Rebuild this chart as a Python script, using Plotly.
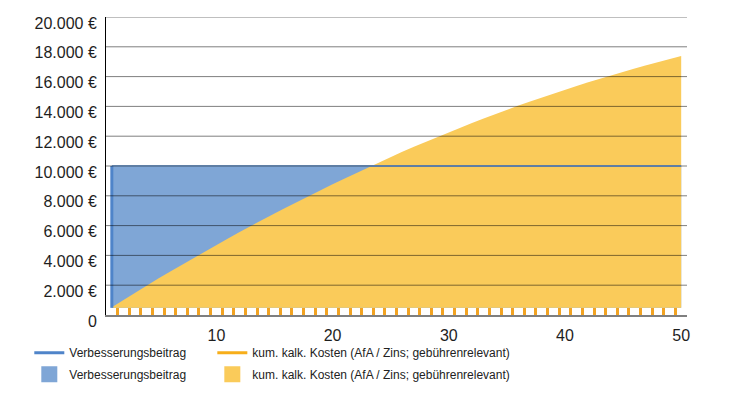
import plotly.graph_objects as go

# ---------------- data ----------------
YEARS = list(range(1, 51))
BEITRAG = [
    10000, 10000, 10000, 10000, 10000, 10000, 10000, 10000, 10000, 10000,
    10000, 10000, 10000, 10000, 10000, 10000, 10000, 10000, 10000, 10000,
    10000, 10000, 10000, 10000, 10000, 10000, 10000, 10000, 10000, 10000,
    10000, 10000, 10000, 10000, 10000, 10000, 10000, 10000, 10000, 10000,
    10000, 10000, 10000, 10000, 10000, 10000, 10000, 10000, 10000, 10000,
]
KOSTEN = [
    520, 1010, 1500, 1990, 2450, 2900, 3360, 3810, 4260, 4700,
    5140, 5570, 6000, 6410, 6820, 7220, 7620, 8010, 8390, 8770,
    9150, 9520, 9890, 10250, 10600, 10950, 11290, 11620, 11950, 12270,
    12580, 12890, 13190, 13490, 13780, 14060, 14330, 14600, 14860, 15120,
    15370, 15620, 15860, 16090, 16320, 16540, 16760, 16970, 17180, 17390,
]
Y_TICKS = [0, 2000, 4000, 6000, 8000, 10000, 12000, 14000, 16000, 18000, 20000]
Y_TICK_TEXT = ["0", "2.000 €", "4.000 €", "6.000 €", "8.000 €", "10.000 €",
               "12.000 €", "14.000 €", "16.000 €", "18.000 €", "20.000 €"]
X_TICKS = [10, 20, 30, 40, 50]
NAME_B = "Verbesserungsbeitrag"
NAME_K = "kum. kalk. Kosten (AfA / Zins; gebührenrelevant)"

# ---------------- style ----------------
BLUE_FILL = "#7FA6D6"
BLUE_LINE = "#7EA8DB"
BLUE_EDGE = "#4F84C9"
YELLOW_FILL = "#FACB5A"
ORANGE = "#F2A322"
FILL_BASE = 480  # areas stop just above the tick band
FONT = "Liberation Sans, Arial, sans-serif"

base = [FILL_BASE for _ in YEARS]

fig = go.Figure()

# blue area
fig.add_trace(go.Scatter(x=YEARS, y=base, mode="lines", line=dict(width=0),
                         showlegend=False, hoverinfo="skip"))
fig.add_trace(go.Scatter(x=YEARS, y=BEITRAG, mode="lines", line=dict(width=0),
                         fill="tonexty", fillcolor=BLUE_FILL,
                         showlegend=False, hoverinfo="skip"))
# yellow area
fig.add_trace(go.Scatter(x=YEARS, y=base, mode="lines", line=dict(width=0),
                         showlegend=False, hoverinfo="skip"))
fig.add_trace(go.Scatter(x=YEARS, y=KOSTEN, mode="lines", line=dict(width=0),
                         fill="tonexty", fillcolor=YELLOW_FILL,
                         showlegend=False, hoverinfo="skip"))
# blue line
fig.add_trace(go.Scatter(x=YEARS, y=BEITRAG, mode="lines",
                         line=dict(color=BLUE_LINE, width=2),
                         showlegend=False, hoverinfo="skip"))
fig.add_trace(go.Scatter(x=[YEARS[0], YEARS[0]], y=[FILL_BASE, BEITRAG[0]], mode="lines",
                         line=dict(color=BLUE_EDGE, width=3),
                         showlegend=False, hoverinfo="skip"))

# legend entries
fig.add_trace(go.Scatter(x=[None], y=[None], mode="lines", name=NAME_B,
                         line=dict(color=BLUE_EDGE, width=3),
                         legend="legend", legendgroup="a"))
fig.add_trace(go.Scatter(x=[None], y=[None], mode="markers", name=NAME_B,
                         marker=dict(symbol="square", size=16, color=BLUE_FILL),
                         legend="legend", legendgroup="b"))
fig.add_trace(go.Scatter(x=[None], y=[None], mode="lines", name=NAME_K,
                         line=dict(color="#F7AE1A", width=3),
                         legend="legend2", legendgroup="c"))
fig.add_trace(go.Scatter(x=[None], y=[None], mode="markers", name=NAME_K,
                         marker=dict(symbol="square", size=16, color=YELLOW_FILL),
                         legend="legend2", legendgroup="d"))

# orange tick band (overlay axis)
fig.add_trace(go.Scatter(x=[None], y=[None], xaxis="x2", showlegend=False))

# gridlines above the areas
for v in Y_TICKS[1:]:
    fig.add_shape(type="line", xref="paper", x0=0, x1=1, yref="y", y0=v, y1=v,
                  line=dict(color="rgba(0,0,0,0.5)", width=1), layer="above")

legend_common = dict(
    font=dict(family=FONT, size=12, color="#222222"),
    bgcolor="rgba(0,0,0,0)", borderwidth=0,
    orientation="v", traceorder="grouped", tracegroupgap=2.5,
    xanchor="left", yanchor="top", itemwidth=30,
)

fig.update_layout(
    width=731, height=396,
    margin=dict(l=106, r=44, t=17, b=81, autoexpand=False),
    paper_bgcolor="white", plot_bgcolor="white",
    font=dict(family=FONT, color="#1e1e1e"),
    xaxis=dict(range=[0.5, 50.5], tickmode="array", tickvals=X_TICKS,
               ticks="", showgrid=False, zeroline=False,
               showline=True, linecolor="#7f7f7f", linewidth=2,
               tickfont=dict(size=16, color="#1e1e1e"), ticklabelstandoff=5),
    xaxis2=dict(range=[0.5, 50.5], overlaying="x", anchor="y", side="bottom",
                tickmode="array", tickvals=[y + 0.5 for y in YEARS],
                ticks="inside", ticklen=7, tickwidth=3, tickcolor=ORANGE,
                showticklabels=False, showgrid=False, zeroline=False, showline=False),
    yaxis=dict(range=[0, 20000], tickmode="array", tickvals=Y_TICKS, ticktext=Y_TICK_TEXT,
               ticks="", showgrid=False, zeroline=False,
               showline=True, linecolor="#000000", linewidth=1,
               tickfont=dict(size=16, color="#1e1e1e"), ticklabelstandoff=5,
               ticklabelshift=6),
    legend=dict(x=-0.132, y=-0.078, **legend_common),
    legend2=dict(x=0.183, y=-0.078, **legend_common),
    showlegend=True,
)

fig.write_html("out.html")
